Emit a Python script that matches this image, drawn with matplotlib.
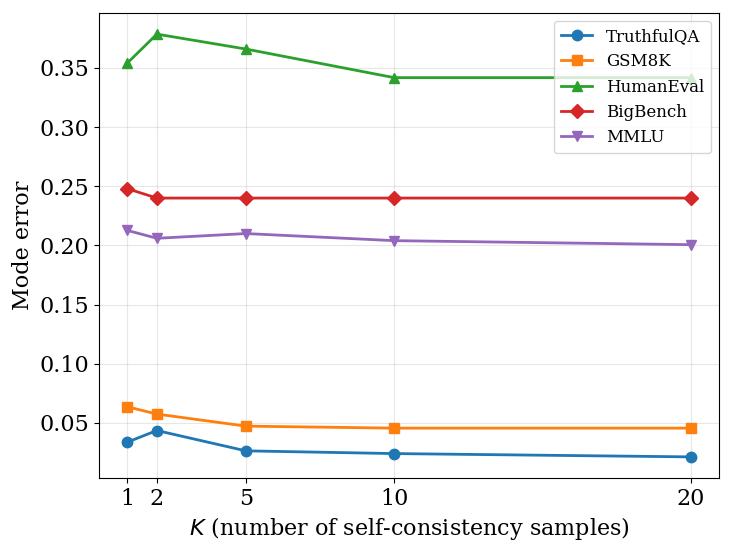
import matplotlib
matplotlib.use("Agg")
import matplotlib.pyplot as plt

plt.rcParams['font.family'] = 'DejaVu Serif'

k_values = [1, 2, 5, 10, 20]
truthfulqa = [0.0336, 0.0435, 0.0263, 0.0240, 0.0212]
gsm8k = [0.0636, 0.0574, 0.0472, 0.0455, 0.0455]
humaneval = [0.354, 0.3786, 0.366, 0.3418, 0.3418]
bigbench = [0.248, 0.240, 0.240, 0.240, 0.240]
mmlu = [0.2127, 0.206, 0.210, 0.204, 0.2006]

series = [("TruthfulQA", truthfulqa, 'o'),
          ("GSM8K", gsm8k, 's'),
          ("HumanEval", humaneval, '^'),
          ("BigBench", bigbench, 'D'),
          ("MMLU", mmlu, 'v')]

fig, ax = plt.subplots(figsize=(7.36, 5.55), dpi=100)
for name, vals, marker in series:
    ax.plot(k_values, vals, marker=marker, linewidth=2, markersize=7.5, label=name)

ax.set_xticks(k_values)
ax.tick_params(labelsize=16)
ax.set_xlabel("$K$ (number of self-consistency samples)", fontsize=16)
ax.set_ylabel("Mode error", fontsize=16)
ax.grid(True, alpha=0.3)
ax.legend(loc='upper right', fontsize=12, handlelength=1.9)
fig.subplots_adjust(left=0.1345, right=0.977, top=0.9766, bottom=0.1387)
fig.savefig("out.png")
